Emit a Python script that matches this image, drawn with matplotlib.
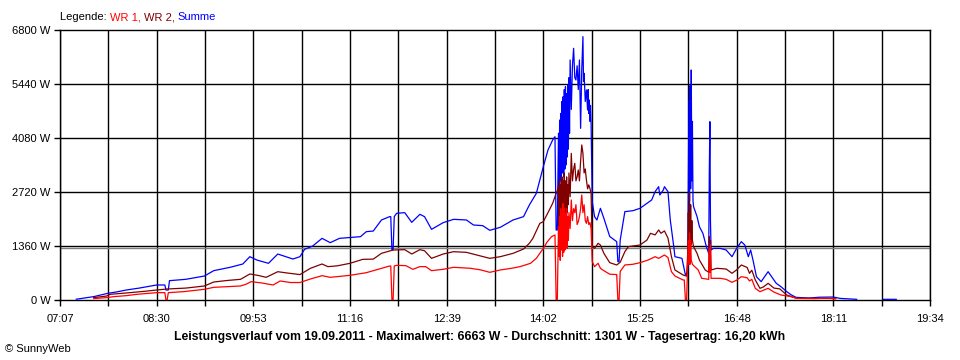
import numpy as np
import matplotlib
matplotlib.use("Agg")
import matplotlib.pyplot as plt
from matplotlib.ticker import FixedLocator, FixedFormatter

# x axis: 07:07 .. 19:34 in 83 minute steps
tick_labels = ["07:07", "08:30", "09:53", "11:16", "12:39", "14:02", "15:25", "16:48", "18:11", "19:34"]
y_ticks = [0, 1360, 2720, 4080, 5440, 6800]
average_w = 1301

title = ("Leistungsverlauf vom 19.09.2011 - Maximalwert: 6663 W - "
         "Durchschnitt: 1301 W - Tagesertrag: 16,20 kWh")

# WR 1 (red)
wr1_time = ["07:36", "07:47", "07:53", "08:04", "08:13", "08:30", "08:37", "08:38", "08:39", "08:40",
            "08:53", "09:11", "09:19", "09:42", "09:47", "09:51", "10:00", "10:10", "10:16", "10:25",
            "10:33", "10:42", "10:52", "10:59", "11:16", "11:30", "11:42", "11:50", "11:51", "11:52",
            "11:53", "11:54", "11:56", "12:04", "12:10", "12:16", "12:21", "12:26", "12:36", "12:45",
            "12:59", "13:08", "13:16", "13:25", "13:35", "13:42", "13:51", "13:56", "14:02", "14:05",
            "14:09", "14:12", "14:13", "14:14", "14:15", "14:15:30", "14:16", "14:16:30", "14:17", "14:17:30",
            "14:18", "14:18:30", "14:19", "14:19:30", "14:20", "14:20:30", "14:21", "14:21:30", "14:22", "14:22:30",
            "14:23", "14:23:30", "14:24", "14:25", "14:26", "14:27", "14:28", "14:29", "14:30", "14:31",
            "14:32", "14:33", "14:34", "14:35", "14:36", "14:37", "14:38", "14:39", "14:40", "14:41",
            "14:42", "14:43", "14:44", "14:46", "14:49", "14:51", "14:53", "14:59", "15:05", "15:06",
            "15:07", "15:08", "15:12", "15:19", "15:25", "15:32", "15:38", "15:41", "15:46", "15:49",
            "15:52", "15:55", "15:59", "16:02", "16:03", "16:04", "16:05", "16:06", "16:06:30", "16:07",
            "16:07:30", "16:08", "16:08:30", "16:09", "16:10", "16:12", "16:15", "16:18", "16:22", "16:24",
            "16:24:30", "16:25", "16:25:30", "16:26", "16:34", "16:39", "16:44", "16:48", "16:52", "16:57",
            "16:59", "17:01", "17:04", "17:08", "17:15", "17:20", "17:26", "17:35", "17:40", "17:55",
            "18:05", "18:13"]
wr1_watt = [35, 60, 84, 110, 143, 185, 185, 0, 0, 185,
            210, 269, 319, 353, 400, 462, 430, 378, 479, 440,
            440, 529, 613, 571, 621, 688, 789, 856, 856, 0,
            0, 856, 873, 865, 773, 840, 840, 739, 773, 823,
            800, 760, 697, 756, 800, 840, 924, 1050, 1301, 1450,
            1595, 1637, 0, 0, 1847, 1100, 2100, 1000, 2300, 1259,
            2200, 1100, 2435, 1200, 2300, 1259, 2200, 1400, 2300, 1300,
            2100, 1500, 2200, 1800, 2519, 2000, 2300, 2200, 2400, 1900,
            1973, 2100, 2300, 2645, 2200, 2400, 2000, 1931, 2100, 1900,
            1950, 1800, 965, 840, 924, 800, 756, 650, 640, 0,
            0, 720, 882, 900, 940, 1007, 1091, 1049, 1133, 1070,
            713, 604, 546, 504, 504, 0, 0, 1000, 1500, 900,
            1690, 900, 1500, 1000, 900, 840, 756, 546, 530, 520,
            1300, 700, 1400, 546, 546, 520, 445, 500, 588, 560,
            480, 520, 294, 210, 294, 200, 126, 84, 40, 35,
            45, 30]

# WR 2 (dark red)
wr2_time = ["07:36", "07:47", "07:50", "08:07", "08:20", "08:30", "08:39", "08:55", "09:11", "09:19",
            "09:30", "09:42", "09:50", "09:57", "10:04", "10:14", "10:22", "10:33", "10:42", "10:52",
            "10:57", "11:05", "11:16", "11:27", "11:36", "11:43", "11:53", "12:03", "12:09", "12:16",
            "12:20", "12:26", "12:36", "12:45", "12:56", "13:05", "13:16", "13:25", "13:36", "13:45",
            "13:50", "13:53", "13:59", "14:02", "14:06", "14:10", "14:13", "14:14", "14:15", "14:15:30",
            "14:16", "14:16:30", "14:17", "14:17:30", "14:18", "14:18:30", "14:19", "14:19:30", "14:20", "14:20:30",
            "14:21", "14:21:30", "14:22", "14:22:30", "14:23", "14:23:30", "14:24", "14:25", "14:26", "14:27",
            "14:28", "14:29", "14:30", "14:31", "14:32", "14:33", "14:34", "14:35", "14:36", "14:37",
            "14:38", "14:39", "14:40", "14:41", "14:42", "14:43", "14:44", "14:46", "14:49", "14:51",
            "14:54", "14:59", "15:05", "15:08", "15:12", "15:15", "15:25", "15:31", "15:34", "15:38",
            "15:41", "15:43", "15:46", "15:49", "15:52", "15:55", "16:02", "16:05", "16:06", "16:06:30",
            "16:07", "16:07:30", "16:08", "16:08:30", "16:09", "16:09:30", "16:10", "16:11", "16:14", "16:16",
            "16:21", "16:24", "16:24:30", "16:25", "16:25:30", "16:26", "16:31", "16:39", "16:44", "16:48",
            "16:52", "16:57", "16:59", "17:01", "17:04", "17:08", "17:11", "17:15", "17:20", "17:25",
            "17:31", "17:39", "18:13"]
wr2_watt = [60, 100, 143, 185, 220, 252, 277, 300, 353, 453,
            490, 521, 655, 620, 571, 713, 680, 640, 798, 907,
            840, 860, 924, 1024, 1030, 1175, 1259, 1268, 1158, 1268,
            1240, 1049, 1158, 1217, 1200, 1133, 1049, 1091, 1175, 1284,
            1427, 1553, 1931, 1973, 2200, 2435, 2687, 2750, 2854, 1700,
            3022, 1500, 2900, 1800, 3100, 1600, 3000, 1900, 3200, 1800,
            3000, 2000, 3100, 2200, 2900, 2400, 3200, 2600, 3694, 3000,
            3300, 3442, 3000, 3100, 3274, 3000, 3500, 3904, 3694, 3200,
            3300, 3022, 2800, 2900, 2813, 2687, 1343, 1300, 1427, 1385,
            1175, 940, 882, 950, 1217, 1343, 1385, 1511, 1679, 1640,
            1763, 1680, 1740, 1560, 1091, 756, 630, 600, 1200, 2200,
            1400, 2687, 1500, 2400, 1400, 2000, 1500, 1343, 1175, 1007,
            756, 700, 1595, 1000, 1500, 756, 798, 780, 672, 760,
            882, 820, 672, 750, 504, 294, 330, 420, 300, 280,
            126, 45, 40]

# Summe (blue)
sum_time = ["07:21", "07:36", "07:48", "07:55", "08:04", "08:15", "08:30", "08:37", "08:38", "08:40",
            "08:41", "08:55", "09:11", "09:19", "09:33", "09:44", "09:50", "09:56", "10:06", "10:14",
            "10:20", "10:27", "10:33", "10:37", "10:44", "10:52", "10:59", "11:07", "11:25", "11:30",
            "11:36", "11:43", "11:50", "11:51", "11:52", "11:53", "11:54", "11:56", "12:03", "12:09",
            "12:16", "12:20", "12:26", "12:36", "12:45", "12:56", "13:02", "13:10", "13:16", "13:25",
            "13:36", "13:45", "13:50", "13:56", "14:02", "14:06", "14:10", "14:12", "14:13", "14:14",
            "14:15", "14:15:30", "14:16", "14:16:30", "14:17", "14:17:30", "14:18", "14:18:30", "14:19", "14:19:30",
            "14:20", "14:20:30", "14:21", "14:21:30", "14:22", "14:22:30", "14:23", "14:23:30", "14:24", "14:24:30",
            "14:25", "14:26", "14:27", "14:28", "14:29", "14:30", "14:31", "14:32", "14:33", "14:34",
            "14:35", "14:36", "14:36:30", "14:37", "14:38", "14:39", "14:40", "14:40:30", "14:41", "14:41:30",
            "14:42", "14:42:30", "14:43", "14:44", "14:46", "14:48", "14:51", "14:54", "14:59", "15:05",
            "15:06", "15:07", "15:08", "15:12", "15:19", "15:25", "15:31", "15:35", "15:38", "15:41",
            "15:42", "15:45", "15:46", "15:49", "15:51", "15:54", "15:55", "16:01", "16:04", "16:06",
            "16:06:30", "16:07", "16:07:30", "16:08", "16:08:30", "16:09", "16:09:30", "16:10", "16:10:30", "16:11",
            "16:14", "16:16", "16:19", "16:22", "16:24", "16:24:30", "16:25", "16:25:30", "16:26", "16:28",
            "16:34", "16:39", "16:44", "16:48", "16:52", "16:55", "16:58", "17:00", "17:02", "17:05",
            "17:09", "17:12", "17:15", "17:18", "17:22", "17:26", "17:31", "17:35", "17:39", "17:50",
            "17:59", "18:11", "18:17", "18:31", "18:33", "18:39", "18:45", "18:54", "19:05"]
sum_watt = [20, 85, 168, 200, 252, 300, 378, 378, 252, 252,
            487, 521, 604, 739, 823, 907, 1091, 1007, 924, 1158,
            1100, 1032, 1091, 1276, 1360, 1553, 1444, 1553, 1595, 1721,
            1737, 2015, 2099, 2099, 1260, 1260, 2099, 2183, 2200, 1956,
            2158, 2099, 1780, 1948, 2032, 2015, 1889, 1872, 1755, 1830,
            2015, 2099, 2393, 2687, 3358, 3778, 4030, 4113, 1763, 1763,
            4200, 2600, 4533, 3000, 4700, 2900, 5000, 3200, 5121, 3100,
            5300, 3300, 5373, 3400, 5200, 3600, 5400, 3800, 5600, 4200,
            6045, 4800, 5900, 6339, 5600, 5541, 5900, 5300, 6045, 4323,
            5800, 6633, 5500, 5709, 5000, 5289, 4785, 5300, 4700, 5037,
            4500, 4900, 4450, 2476, 2099, 2015, 2309, 2057, 1600, 1469,
            965, 965, 1511, 2225, 2250, 2309, 2435, 2519, 2729, 2854,
            2645, 2770, 2854, 2729, 2015, 1343, 1091, 1050, 630, 700,
            3000, 5037, 2500, 5400, 2800, 5793, 3000, 4500, 2500, 2350,
            2099, 1847, 1679, 1343, 1175, 3190, 4491, 2000, 1259, 1301,
            1300, 1259, 1091, 1301, 1469, 1385, 1091, 1259, 1007, 588,
            462, 588, 713, 588, 420, 336, 210, 126, 67, 50,
            70, 75, 40, 17, np.nan, 17, np.nan, 17, 17]


def to_min(s):
    parts = [int(p) for p in s.split(":")]
    sec = parts[2] if len(parts) > 2 else 0
    return parts[0] * 60 + parts[1] + sec / 60


fig = plt.figure(figsize=(9.6, 3.6), dpi=100)
ax = fig.add_axes([60 / 960, 60 / 360, 870 / 960, 270 / 360])

major = [to_min(t) for t in tick_labels]
minor = [m + 41.5 for m in major[:-1]]

for x in major + minor:
    ax.axvline(x, color="black", lw=1.0, zorder=1)
for y in y_ticks[1:-1]:
    ax.axhline(y, color="black", lw=1.0, zorder=1)
ax.axhline(average_w, color="#808080", lw=1.0, zorder=1)

series = [
    (sum_time, sum_watt, "#0000FF"),
    (wr2_time, wr2_watt, "#800000"),
    (wr1_time, wr1_watt, "#FF0000"),
]
for times, watts, color in series:
    ax.plot([to_min(t) for t in times], watts, color=color, lw=0.9, zorder=3)

ax.set_xlim(major[0], major[-1])
ax.set_ylim(0, 6800)
ax.xaxis.set_major_locator(FixedLocator(major))
ax.xaxis.set_major_formatter(FixedFormatter(tick_labels))
ax.xaxis.set_minor_locator(FixedLocator(minor))
ax.set_yticks(y_ticks)
ax.set_yticklabels([f"{v} W" for v in y_ticks])
ax.tick_params(which="both", direction="out", length=4, width=1.0, color="black",
               labelsize=8, pad=6)
ax.tick_params(axis="y", pad=3)
for lbl in ax.get_xticklabels() + ax.get_yticklabels():
    lbl.set_family("Liberation Sans")
for sp in ax.spines.values():
    sp.set_linewidth(1.0)

# legend line at the top, coloured pieces one after another
renderer = fig.canvas.get_renderer()
x = 60 / 960
for text, color in [("Legende: ", "black"), ("WR 1, ", "#FF0000"),
                    ("WR 2, ", "#800000"), ("Summe", "#0000FF")]:
    t = fig.text(x, 1 - 17 / 360, text, color=color, fontsize=8,
                 family="Liberation Sans", va="center", ha="left")
    x += t.get_window_extent(renderer).width / fig.bbox.width

fig.text(480 / 960, 1 - 337 / 360, title, fontsize=8.8, fontweight="bold",
         family="Liberation Sans", ha="center", va="center")
fig.text(5 / 960, 1 - 349 / 360, "\u00a9 SunnyWeb", fontsize=8,
         family="Liberation Sans", ha="left", va="center")

fig.savefig("out.png", dpi=100, facecolor="white")
